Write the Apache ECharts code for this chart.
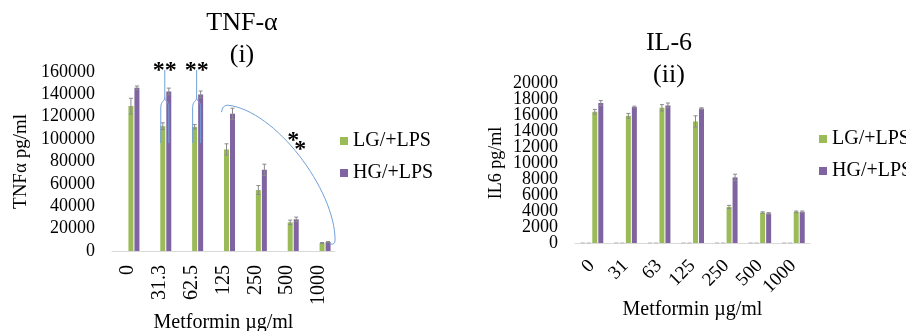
<!DOCTYPE html>
<html>
<head>
<meta charset="utf-8">
<script src="https://cdn.jsdelivr.net/npm/echarts@6/dist/echarts.min.js"></script>
<style>html,body{margin:0;padding:0;background:#fff}#c{width:906px;height:331px}</style>
</head>
<body>
<div id="c"></div>
<script>
// ---- data ----
const tnfCategories = ['0', '31.3', '62.5', '125', '250', '500', '1000'];
const il6Categories = ['0', '31', '63', '125', '250', '500', '1000'];
const seriesNames = ['LG/+LPS', 'HG/+LPS'];
const tnfLG = [129500, 111600, 111000, 90800, 54500, 25600, 7100];
const tnfHG = [146000, 142600, 140000, 122600, 72600, 28300, 8000];
const tnfLGErr = [7000, 3000, 2000, 5000, 4000, 2000, 500];
const tnfHGErr = [1500, 3000, 3000, 5000, 5000, 2000, 500];
const il6LG = [16400, 15900, 16900, 15200, 4500, 3800, 3900];
const il6HG = [17500, 17000, 17200, 16800, 8200, 3700, 3900];
const il6LGErr = [300, 300, 400, 700, 200, 100, 100];
const il6HGErr = [300, 100, 300, 100, 400, 100, 100];
const blankValues = [0, 0, 0, 0, 0, 0, 0];
const blankErr = [0, 0, 0, 0, 0, 0, 0];
const tnfTicks = [0, 20000, 40000, 60000, 80000, 100000, 120000, 140000, 160000];
const il6Ticks = [0, 2000, 4000, 6000, 8000, 10000, 12000, 14000, 16000, 18000, 20000];

const GREEN = '#9BBB59', PURPLE = '#8064A2';
const FONT = 'Liberation Serif';
const BW = 5;
const OFFS = [-9, -3, 3, 9];

const chart = echarts.init(document.getElementById('c'), null, {renderer: 'canvas'});

function errSeries(gi, vals, errs, off, color) {
  return {
    type: 'custom', xAxisIndex: gi, yAxisIndex: gi, silent: true, z: 5,
    data: vals.map((v, i) => [i, v, errs[i]]),
    renderItem: function (params, api) {
      const i = api.value(0), v = api.value(1), e = api.value(2);
      const p0 = api.coord([i, v]);
      const pt = api.coord([i, v + e]);
      const pb = api.coord([i, v - e]);
      const x = p0[0] + off;
      return {
        type: 'group', children: [
          {type: 'line', shape: {x1: x, y1: pt[1], x2: x, y2: pb[1]}, style: {stroke: color, lineWidth: 1}},
          {type: 'line', shape: {x1: x - 2, y1: pt[1], x2: x + 2, y2: pt[1]}, style: {stroke: color, lineWidth: 1}},
          {type: 'line', shape: {x1: x - 2, y1: pb[1], x2: x + 2, y2: pb[1]}, style: {stroke: color, lineWidth: 1}}
        ]
      };
    }
  };
}

function barSeries(gi, name, vals, color) {
  return {
    type: 'bar', name: name, xAxisIndex: gi, yAxisIndex: gi, data: vals,
    barWidth: BW, barGap: '20%', itemStyle: {color: color}, silent: true
  };
}

function yLabel(size, showEnds, fmt) {
  return {color: '#000', fontFamily: FONT, fontSize: size, margin: 17,
    showMinLabel: showEnds, showMaxLabel: showEnds, hideOverlap: false,
    formatter: fmt || function (v) { return String(v); }};
}

const il6Min = il6Ticks[0], il6Max = il6Ticks[il6Ticks.length - 1], il6Step = il6Ticks[1] - il6Ticks[0];

const option = {
  animation: false,
  title: [
    {text: 'TNF-α\n(i)', left: 242, top: 7, textAlign: 'center', padding: 0,
     textStyle: {fontFamily: FONT, fontSize: 26, fontWeight: 'normal', color: '#000', lineHeight: 32}},
    {text: 'IL-6\n(ii)', left: 669, top: 27, textAlign: 'center', padding: 0,
     textStyle: {fontFamily: FONT, fontSize: 26, fontWeight: 'normal', color: '#000', lineHeight: 32}}
  ],
  legend: [
    {data: seriesNames, orient: 'vertical', left: 340, top: 131, padding: 0, itemWidth: 8, itemHeight: 8, itemGap: 12,
     icon: 'rect', textStyle: {fontFamily: FONT, fontSize: 20, color: '#000'}, selectedMode: false},
    {data: seriesNames, orient: 'vertical', left: 819, top: 129, padding: 0, itemWidth: 8, itemHeight: 8, itemGap: 12,
     icon: 'rect', textStyle: {fontFamily: FONT, fontSize: 20, color: '#000'}, selectedMode: false}
  ],
  grid: [
    {left: 112, top: 72, width: 223, height: 179, outerBoundsMode: 'none', containLabel: false},
    {left: 575, top: 83, width: 235, height: 160, outerBoundsMode: 'none', containLabel: false}
  ],
  xAxis: [
    {type: 'category', gridIndex: 0, data: tnfCategories,
     axisLine: {lineStyle: {color: '#D9D9D9'}}, axisTick: {show: false},
     axisLabel: {rotate: 90, color: '#000', fontFamily: FONT, fontSize: 20, margin: 14, interval: 0},
     name: 'Metformin µg/ml', nameLocation: 'middle', nameGap: 62,
     nameTextStyle: {fontFamily: FONT, fontSize: 20, color: '#000'}},
    {type: 'category', gridIndex: 1, data: il6Categories,
     axisLine: {lineStyle: {color: '#D9D9D9'}}, axisTick: {show: false},
     axisLabel: {rotate: 45, color: '#000', fontFamily: FONT, fontSize: 19, margin: 20, interval: 0},
     name: 'Metformin µg/ml', nameLocation: 'middle', nameGap: 56,
     nameTextStyle: {fontFamily: FONT, fontSize: 20, color: '#000'}}
  ],
  yAxis: [
    {type: 'value', gridIndex: 0, min: tnfTicks[0], max: tnfTicks[tnfTicks.length - 1], interval: tnfTicks[1] - tnfTicks[0],
     splitLine: {show: false}, axisLine: {show: false}, axisTick: {show: false}, axisLabel: yLabel(18, true),
     name: 'TNFα pg/ml', nameLocation: 'middle', nameGap: 81, nameRotate: 90,
     nameTextStyle: {fontFamily: FONT, fontSize: 19, color: '#000'}},
    {type: 'value', gridIndex: 1, min: il6Min, max: il6Max, interval: il6Step,
     splitLine: {show: false}, axisLine: {show: false}, axisTick: {show: false}, axisLabel: yLabel(18, false),
     name: 'IL6 pg/ml', nameLocation: 'middle', nameGap: 70, nameRotate: 90,
     nameTextStyle: {fontFamily: FONT, fontSize: 18, color: '#000'}},
    // companion axis carrying only the end labels (0 and 20000) of the IL-6 scale
    {type: 'value', gridIndex: 1, position: 'left', min: il6Min, max: il6Max, interval: il6Step,
     splitLine: {show: false}, axisLine: {show: false}, axisTick: {show: false},
     axisLabel: yLabel(18, true, function (v) { return (v === il6Min || v === il6Max) ? String(v) : ''; })}
  ],
  series: [
    barSeries(0, 'blank1', blankValues, '#ccc'),
    barSeries(0, 'blank2', blankValues, '#ccc'),
    barSeries(0, seriesNames[0], tnfLG, GREEN),
    barSeries(0, seriesNames[1], tnfHG, PURPLE),
    errSeries(0, tnfLG, tnfLGErr, OFFS[2], '#8a8a8a'),
    errSeries(0, tnfHG, tnfHGErr, OFFS[3], '#8a8a8a'),
    barSeries(1, 'blank1', blankValues, '#ccc'),
    barSeries(1, 'blank2', blankValues, '#ccc'),
    barSeries(1, seriesNames[0], il6LG, GREEN),
    barSeries(1, seriesNames[1], il6HG, PURPLE),
    errSeries(1, blankValues, blankErr, OFFS[0], '#c8c8c8'),
    errSeries(1, blankValues, blankErr, OFFS[1], '#c8c8c8'),
    errSeries(1, il6LG, il6LGErr, OFFS[2], '#8a8a8a'),
    errSeries(1, il6HG, il6HGErr, OFFS[3], '#8a8a8a')
  ]
};
chart.setOption(option);

// ---- annotations positioned through the axes ----
function px(ci, v) { return chart.convertToPixel({xAxisIndex: 0, yAxisIndex: 0}, [ci, v]); }
const BLUE = '#6FA0D8';
const lineStyle = {fill: null, stroke: BLUE, lineWidth: 1};
const graphics = [];
function gLine(x1, y1, x2, y2) {
  graphics.push({type: 'line', silent: true, z: 10, shape: {x1: x1, y1: y1, x2: x2, y2: y2}, style: lineStyle});
}
function gBez(x1, y1, c1x, c1y, c2x, c2y, x2, y2) {
  const shape = {x1: x1, y1: y1, x2: x2, y2: y2, cpx1: c1x, cpy1: c1y};
  if (c2x !== undefined && c2x !== null) { shape.cpx2 = c2x; shape.cpy2 = c2y; }
  graphics.push({type: 'bezierCurve', silent: true, z: 10, shape: shape, style: lineStyle});
}
function gText(x, y, t) {
  graphics.push({type: 'text', silent: true, z: 11, x: x, y: y,
    style: {text: t, fontFamily: FONT, fontSize: 24, fontWeight: 'bold', fill: '#000', align: 'center', verticalAlign: 'middle'}});
}
[1, 2].forEach(function (ci) {
  const c = px(ci, 0)[0];
  const sx = c + 5, lx = c + 1, rx = c + 9;
  const top = px(ci, 162000)[1], split = px(ci, 137500)[1], arm = px(ci, 128000)[1], bot = px(ci, 96500)[1];
  gLine(sx, top, sx, split);
  gBez(sx, split, sx, split + 5, lx, split + 3, lx, arm);
  gLine(lx, arm, lx, bot);
  gBez(sx, split, sx, split + 5, rx, split + 3, rx, arm);
  gLine(rx, arm, rx, bot);
  const s = px(ci, 165000);
  gText(s[0] + 5, s[1] + 4, '**');
});
(function () {
  const A = px(3, 125000), B = px(6, 8000);
  gBez(A[0] - 2, A[1] + 1, A[0] - 1, A[1] - 6, null, null, A[0] + 4, A[1] - 6);
  gBez(A[0] + 4, A[1] - 6, A[0] + 52, A[1] - 1, B[0] + 16, B[1] - 52, B[0] + 16, B[1] - 2);
  gBez(B[0] + 16, B[1] - 2, B[0] + 16, B[1] + 3, null, null, B[0] + 11, B[1] + 2);
  const s1 = px(5, 102000), s2 = px(5, 94000);
  gText(s1[0] + 6, s1[1] + 4, '*');
  gText(s2[0] + 13, s2[1] + 4, '*');
})();
chart.setOption({graphic: graphics});
</script>
</body>
</html>
